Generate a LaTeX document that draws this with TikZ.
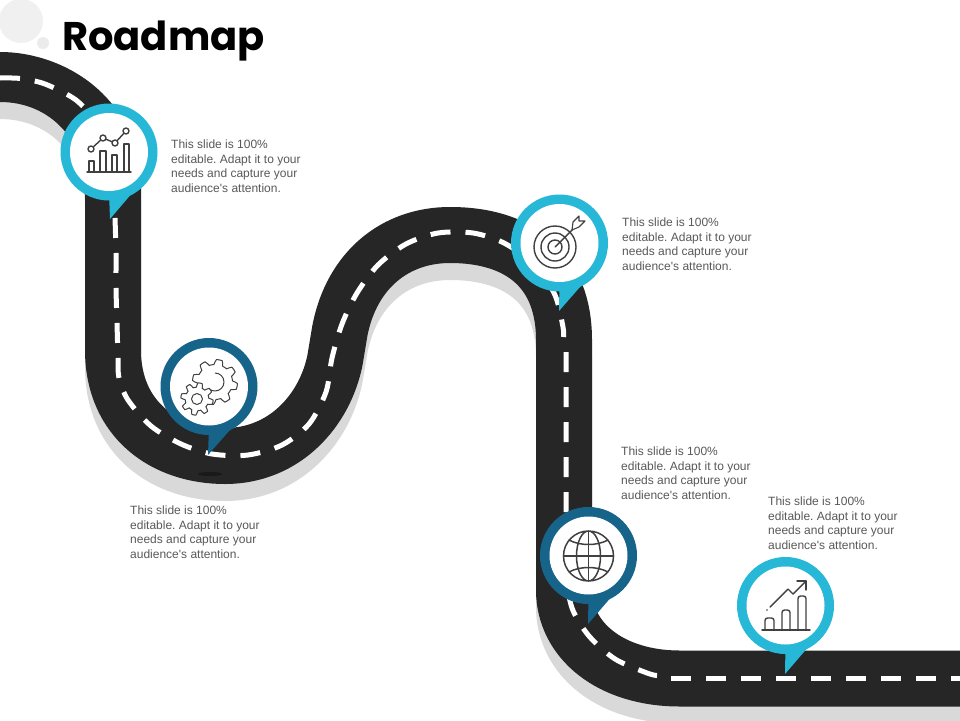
\documentclass[tikz,border=0pt]{standalone}
\usepackage{fontspec}
\setmainfont[Ligatures=TeXOff]{Liberation Sans}
\newfontfamily\titlefont{Poppins}
\definecolor{roadc}{HTML}{262626}
\definecolor{shadowc}{HTML}{D9D9D9}
\definecolor{cyanpin}{HTML}{27B7D7}
\definecolor{bluepin}{HTML}{17648A}
\definecolor{iconc}{HTML}{404040}
\definecolor{bodyc}{HTML}{595959}
\tikzset{
  roadstroke/.style={line width=56pt,line join=round},
  lanedash/.style={draw=white,line width=5pt,dash pattern=on 20pt off 15pt},
  icon/.style={draw=iconc,line width=1.4pt,line join=round,line cap=round},
  iconthin/.style={draw=iconc,line width=1pt,line join=round},
  caption/.style={anchor=north west,inner sep=0pt,align=left,font=\fontsize{12}{14.5}\selectfont\frenchspacing,text=bodyc}
}
\newcommand{\roadpath}{(113,185) -- (113,350) .. controls (113,420) and (165,456) .. (225,456) .. controls (285,456) and (325,410) .. (335,360) -- (340,330) .. controls (352,270) and (395,235) .. (450,235) .. controls (520,235) and (564,270) .. (564,340) -- (564,590) .. controls (564,640) and (610,678.5) .. (680,678.5) -- (980,678.5)}
\newcommand{\roadstart}{(-5,52) -- (0,52) .. controls (65,52) and (141,98) .. (141,190) -- (85,190) .. controls (85,140) and (50,102) .. (0,102) -- (-5,102) -- cycle}
\newcommand{\pinmark}[5]{%
  \fill[#5] (#1,#2) circle (48.5);
  \fill[#5] (#1,#2+40) -- (#3,#4) -- (#1+24,#2+40) -- cycle;
  \fill[white] (#1,#2) circle (39);
}
\newcommand{\gearicon}[5]{%
  \draw[iconthin,fill=white] plot[samples=97,domain=0:360] ({#1+(#3+#4*max(-1,min(1,2.5*sin(#5*\x))))*cos(\x)},{#2+(#3+#4*max(-1,min(1,2.5*sin(#5*\x))))*sin(\x)}) -- cycle;
}
\begin{document}
\begin{tikzpicture}[x=1pt,y=-1pt]
\useasboundingbox (0,0) rectangle (960,720);
\fill[white] (0,0) rectangle (960,720);
% decoration
\fill[black!6] (21,21) circle (22);
\fill[black!8] (43,43) circle (6);
% road
\begin{scope}
\clip (0,0) rectangle (960,720);
\begin{scope}[yshift=-17pt]
\draw[shadowc,roadstroke] \roadpath;
\fill[shadowc] \roadstart;
\end{scope}
\draw[roadc,roadstroke] \roadpath;
\fill[roadc] \roadstart;
\fill[black!90] (210,474) ellipse (12 and 2);
% lane markings, section by section
\draw[lanedash] plot[smooth,tension=0.5] coordinates {(0,78) (20,78.5) (45,84) (76,100) (100,125)};
\draw[lanedash] plot[smooth,tension=0.5] coordinates {(115,218) (116,253) (116,288) (117,323) (118,358) (119,378) (128,400) (151,426) (181,444) (212,454) (248,455) (282,445) (309,424) (326,392) (332,358) (342,324) (357,293) (378,265) (406,244) (438,233) (473,233) (504,243) (535,265) (555,295) (563,327) (563.5,337)};
\draw[lanedash] plot[smooth,tension=0.5] coordinates {(566,352) (566,387) (566,422) (566,457) (566,492) (566,527) (566,572) (572,608) (589,636) (615,659) (647,673) (657,675.5)};
\draw[lanedash] (671,678.5) -- (971,678.5);
\end{scope}
% pins
\pinmark{109}{152}{110}{219}{cyanpin}
\pinmark{209}{386.5}{208}{455}{bluepin}
\pinmark{559.5}{243}{559}{311}{cyanpin}
\pinmark{588.5}{555.5}{588}{624}{bluepin}
\pinmark{785.5}{605.5}{785}{674}{cyanpin}
% icon 1
\draw[icon] (87,172) -- (131,172);
\draw[icon] (89,172) rectangle (94,161) (100,172) rectangle (106,151) (112,172) rectangle (117,155) (124,172) rectangle (129,144);
\draw[icon] (91,149) -- (103,138) -- (115,143) -- (126,131);
\foreach \a/\b in {91/149,103/138,115/143,126/131} \draw[icon,fill=white] (\a,\b) circle (3);
% icon 2
\gearicon{215}{382}{20}{2.5}{8}
\draw[iconthin] (215,373) arc (-90:130:9);
\gearicon{197}{399}{14}{2.2}{8}
\draw[iconthin] (197,399) circle (5.5);
% icon 3
\draw[icon] (555,247) circle (21) circle (14) circle (7);
\draw[icon] (555,247) -- (580,222);
\draw[icon,fill=white,line width=1.1pt] (572,230) -- (573,222) -- (579,216) -- (579,221) -- (585,221) -- (579,227) -- cycle;
% icon 4
\draw[icon,line width=1.5pt] (588.5,556) circle (25) ellipse (12 and 25);
\draw[icon,line width=1.5pt] (588.5,531) -- (588.5,581) (563.5,556) -- (613.5,556);
\draw[icon,line width=1.5pt] (569,540) .. controls (580,546) and (597,546) .. (608,540);
\draw[icon,line width=1.5pt] (569,572) .. controls (580,566) and (597,566) .. (608,572);
% icon 5
\draw[icon] (762,630) -- (810,630);
\draw[icon,rounded corners=2.5pt] (765,630) -- (765,618) -- (774,618) -- (774,630);
\draw[icon,rounded corners=2.5pt] (782,630) -- (782,610) -- (790,610) -- (790,630);
\draw[icon,rounded corners=2.5pt] (798,630) -- (798,596) -- (806,596) -- (806,630);
\draw[icon] (770,607) -- (788,589) -- (793,594) -- (806,581);
\draw[icon] (797,581) -- (806,581) -- (806,590);
\fill[iconc] (767,610) circle (0.9);
% texts
\node[anchor=west,inner sep=0pt,font=\titlefont\bfseries\fontsize{40}{44}\selectfont,text=black] (title) at (62,41) {Roadmap};
\node[caption] (t1) at (171,140) {This slide is 100\%\\editable. Adapt it to your\\needs and capture your\\audience's attention.};
\node[caption] (t2) at (130,506) {This slide is 100\%\\editable. Adapt it to your\\needs and capture your\\audience's attention.};
\node[caption] (t3) at (622,218) {This slide is 100\%\\editable. Adapt it to your\\needs and capture your\\audience's attention.};
\node[caption] (t4) at (621,447) {This slide is 100\%\\editable. Adapt it to your\\needs and capture your\\audience's attention.};
\node[caption] (t5) at (768,497) {This slide is 100\%\\editable. Adapt it to your\\needs and capture your\\audience's attention.};
\end{tikzpicture}
\end{document}
